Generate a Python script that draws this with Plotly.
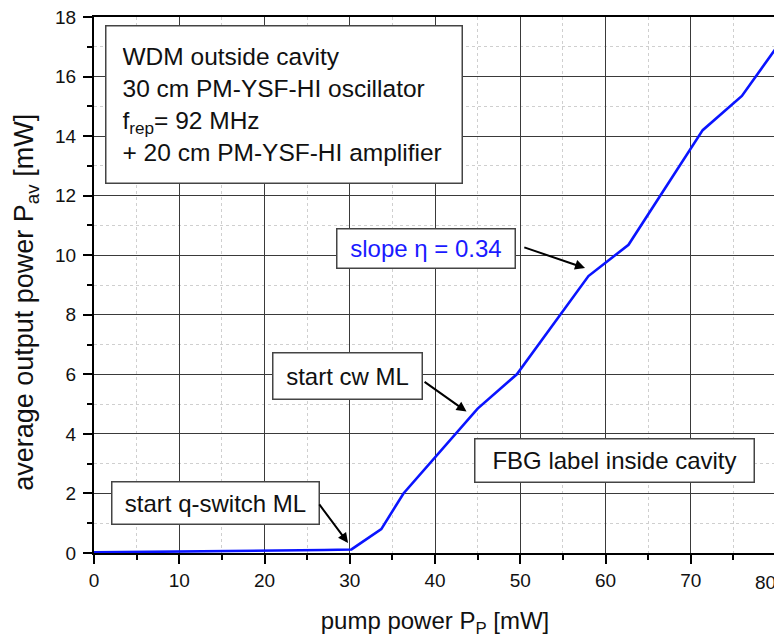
import plotly.graph_objects as go

# measured curve (pump power vs average output power)
pump_mw = [0, 7.5, 14, 20.5, 27, 30.2, 33.7, 36.3, 42.4, 45, 49.6, 54.7, 58, 62.7, 66.2, 71.4, 76, 80]
p_av_mw = [0.02, 0.04, 0.05, 0.07, 0.1, 0.12, 0.8, 2.0, 4.0, 4.85, 6.0, 8.0, 9.3, 10.35, 11.9, 14.2, 15.35, 16.95]

x_ticks = list(range(0, 81, 10))
# last x label is drawn separately so it is not clipped by the window edge
x_ticktext = [str(v) for v in x_ticks[:-1]] + [""]
y_ticks = list(range(0, 19, 2))

FONT = "Liberation Sans, Arial, sans-serif"

fig = go.Figure()
fig.add_trace(go.Scatter(x=pump_mw, y=p_av_mw, mode="lines",
                         line=dict(color="#0a14ff", width=2.6),
                         showlegend=False, hoverinfo="skip"))

axis_common = dict(
    showline=True, linecolor="black", linewidth=2, mirror=True,
    ticks="outside", ticklen=9, tickwidth=1.5, tickcolor="black",
    showgrid=True, gridcolor="#3a3a3a", gridwidth=1.3,
    zeroline=False, automargin=False, ticklabeloverflow="allow",
    tickfont=dict(family=FONT, size=19, color="#111"),
)

fig.update_xaxes(range=[0, 80], tickvals=x_ticks, ticktext=x_ticktext,
                 minor=dict(dtick=5, ticks="outside", ticklen=5, tickcolor="black",
                            showgrid=True, gridcolor="#cfcfcf", griddash="dot", gridwidth=1),
                 title=dict(text="pump power P<sub>P</sub> [mW]",
                            font=dict(family=FONT, size=24, color="#111"), standoff=22),
                 **axis_common)
fig.update_yaxes(range=[0, 18], tickvals=y_ticks, ticklabelstandoff=3,
                 minor=dict(dtick=1, ticks="outside", ticklen=5, tickcolor="black",
                            showgrid=True, gridcolor="#cfcfcf", griddash="dot", gridwidth=1),
                 **axis_common)

fig.add_annotation(text=str(x_ticks[-1]), x=x_ticks[-1], xanchor="right", xshift=2,
                   yref="paper", y=0, yanchor="top", yshift=-17, showarrow=False,
                   font=dict(family=FONT, size=19, color="#111"))

# y title as rotated annotation (sits a bit below the plot centre in the original)
fig.add_annotation(text="average output power P<sub>av</sub> [mW]", textangle=-90,
                   xref="paper", x=0, xanchor="center", xshift=-68,
                   yref="y", y=8.4, yanchor="middle", showarrow=False,
                   font=dict(family=FONT, size=27, color="#111"))

box = dict(showarrow=False, bordercolor="#444", borderwidth=1.5, bgcolor="white")

# info box top-left
fig.add_annotation(x=1.3, y=17.73, xanchor="left", yanchor="top", align="left",
                   text="WDM outside cavity<br>30 cm PM-YSF-HI oscillator<br>"
                        "f<sub>rep</sub>= 92 MHz<br>+ 20 cm PM-YSF-HI amplifier",
                   width=323, height=124, borderpad=16,
                   font=dict(family=FONT, size=24.5, color="#111"), **box)

labels = [
    ("slope η = 0.34", 38.9, 10.24, 173, 34, "#1a1aff"),
    ("start cw ML", 29.7, 5.93, 144, 41, "#111"),
    ("FBG label inside cavity", 61.0, 3.09, 274, 38, "#111"),
    ("start q-switch ML", 14.3, 1.67, 202, 37, "#111"),
]
for txt, lx, ly, w, h, col in labels:
    fig.add_annotation(x=lx, y=ly, text=txt, width=w, height=h, borderpad=2,
                       font=dict(family=FONT, size=24, color=col), **box)

# pointer arrows (tail -> tip)
arrows = [
    (50.3, 10.28, 57.6, 9.57),
    (38.6, 5.78, 43.7, 4.75),
    (26.3, 1.68, 29.8, 0.34),
]
for ax_, ay_, tx, ty in arrows:
    fig.add_annotation(x=tx, y=ty, ax=ax_, ay=ay_, axref="x", ayref="y",
                       text="", showarrow=True, arrowhead=2, arrowsize=1,
                       arrowwidth=2, arrowcolor="black")

# page body adds an 8px offset, so the figure is sized to fit inside the window
fig.update_layout(width=774, height=632,
                  margin=dict(l=86, r=6, t=9, b=87),
                  paper_bgcolor="white", plot_bgcolor="white",
                  font=dict(family=FONT))

fig.write_html("out.html")
